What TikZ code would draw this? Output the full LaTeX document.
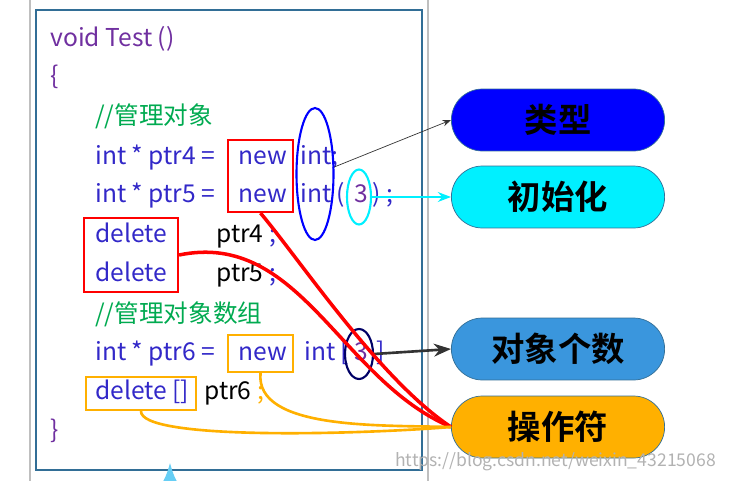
\documentclass[tikz,border=0pt]{standalone}
\usepackage{fontspec}
\setmainfont{Noto Sans CJK SC}
\newfontfamily\labfont{Noto Sans CJK SC Bold}
\usetikzlibrary{shapes,arrows.meta,positioning,calc}
\definecolor{kw}{RGB}{50,40,200}
\definecolor{pu}{RGB}{112,48,160}
\definecolor{cmt}{RGB}{0,170,80}
\definecolor{obj}{RGB}{58,150,221}
\definecolor{opc}{RGB}{255,176,0}
\definecolor{frm}{RGB}{50,110,150}
\definecolor{cy}{RGB}{0,240,255}
\tikzset{
  code/.style={anchor=base west, inner sep=0pt, font=\fontsize{14}{16}\selectfont},
  tag/.style={rounded rectangle, draw=frm, minimum width=4.5cm, minimum height=1.24cm, font=\labfont\fontsize{19}{22}\selectfont},
  redbox/.style={draw=red, line width=1.2pt, inner sep=0pt},
  orbox/.style={draw=opc, line width=1.2pt, inner sep=0pt},
}
\begin{document}
\begin{tikzpicture}[x=0.02cm,y=-0.02cm]
  \useasboundingbox (0,0) rectangle (730,480);
  % frame
  \draw[gray!50, line width=1pt] (30,-5) rectangle (428,485);
  \draw[frm, line width=1.5pt] (36,10) rectangle (422,470);
  \draw[-{Latex}, cyan!60, line width=2pt] (170,485) -- (170,462);
  % code lines
  \node[code, pu] (l1) at (50,46) {void Test ()};
  \node[code, pu] (l2) at (50,84) {\{};
  \node[code, cmt] (l3) at (95,124) {//管理对象};
  \node[code, kw] (l4) at (95,164) {int * ptr4 =};
  \node[code, kw] (l4n) at (238,164) {new};
  \node[code, kw] (l4i) at (300,164) {int;};
  \node[code, kw] (l5) at (95,202) {int * ptr5 =};
  \node[code, kw] (l5n) at (238,202) {new};
  \node[code, kw] (l5i) at (300,202) {int (\ \ \ \ \ ) ;};
  \node[code, pu] (l5c) at (354,202) {3};
  \node[code, kw] (l6) at (95,242) {delete};
  \node[code] (l6p) at (216,242) {ptr4 \textcolor{kw}{;}};
  \node[code, kw] (l7) at (95,281) {delete};
  \node[code] (l7p) at (216,281) {ptr5 \textcolor{kw}{;}};
  \node[code, cmt] (l8) at (95,322) {//管理对象数组};
  \node[code, kw] (l9) at (95,360) {int * ptr6 =};
  \node[code, kw] (l9n) at (238,360) {new};
  \node[code, kw] (l9i) at (304,360) {int [\ \ \ \ \ ]};
  \node[code, pu] (l9c) at (354,360) {3};
  \node[code, kw] (l10) at (95,399) {delete []};
  \node[code] (l10p) at (204,399) {ptr6 \textcolor{opc}{;}};
  \node[code, pu] (l11) at (50,438) {\}};
  % marks
  \node[redbox, minimum width=1.3cm, minimum height=1.44cm] (newA) at (260.5,176) {};
  \node[redbox, minimum width=1.88cm, minimum height=1.48cm] (delA) at (131,255) {};
  \node[orbox, minimum width=1.3cm, minimum height=0.74cm] (newB) at (260.5,353.5) {};
  \node[orbox, minimum width=2.2cm, minimum height=0.66cm] (delB) at (141,393.5) {};
  \node[ellipse, draw=blue, line width=1.2pt, minimum width=0.74cm, minimum height=2.64cm] (typ) at (315,174) {};
  \node[ellipse, draw=cy, line width=1.2pt, minimum width=0.48cm, minimum height=1.1cm] (ini) at (359,197) {};
  \node[ellipse, draw=blue!40!black, line width=1.2pt, minimum width=0.56cm, minimum height=1cm] (cnt) at (359,354) {};
  % tags
  \node[tag, fill=blue] (tType) at (558,120) {类型};
  \node[tag, fill=cy] (tInit) at (558,197) {初始化};
  \node[tag, fill=obj] (tNum) at (558,349) {对象个数};
  \node[tag, fill=opc] (tOp) at (558,427) {操作符};
  % connectors
  \draw[-{Stealth}, black!80] (typ.20) -- (tType.west);
  \draw[-{Stealth}, cy, line width=1pt] (ini.east) -- (tInit.west);
  \draw[-{Stealth}, black!80, line width=1.5pt] (cnt.east) -- (tNum.west);
  \draw[red, line width=2pt] (newA.south) .. controls (300,260) and (380,380) .. (tOp.west);
  \draw[red, line width=2pt] (delA.east) .. controls (300,230) and (340,380) .. (tOp.west);
  \draw[opc, line width=1.5pt] (newB.south) .. controls (255,430) and (380,425) .. (tOp.west);
  \draw[opc, line width=1.5pt] (delB.south) .. controls (140,440) and (350,435) .. (tOp.west);
  \node[anchor=east, gray!60, font=\fontsize{10}{12}\selectfont] (wm) at (722,462) {https://blog.csdn.net/weixin\_43215068};
\end{tikzpicture}
\end{document}
